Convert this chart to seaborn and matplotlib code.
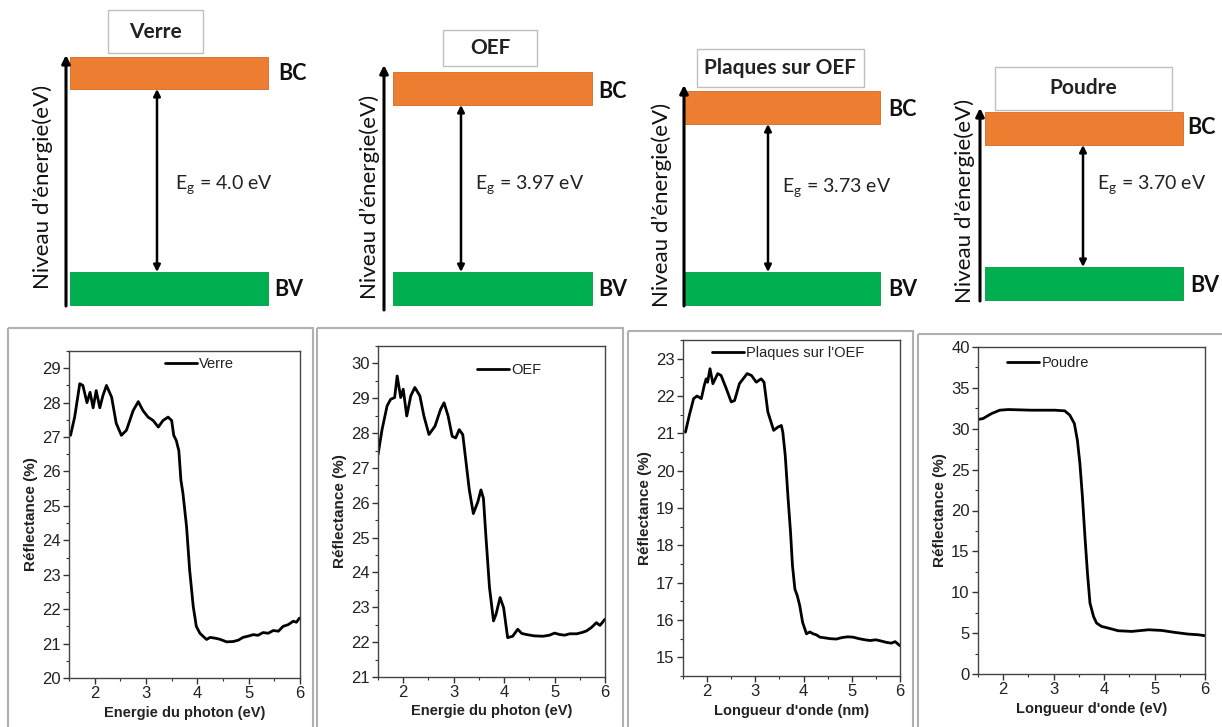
import matplotlib
matplotlib.use("Agg")
import matplotlib.pyplot as plt
from matplotlib.patches import Rectangle
from matplotlib.ticker import AutoMinorLocator, MultipleLocator
import seaborn as sns
import pandas as pd

# ---------------- data ----------------
titles = ["Verre", "OEF", "Plaques sur OEF", "Poudre"]
eg_values = ["4.0", "3.97", "3.73", "3.70"]

verre_x = [1.53, 1.61, 1.71, 1.77, 1.85, 1.91, 1.97, 2.03, 2.10, 2.16, 2.23, 2.33, 2.42, 2.52, 2.62,
           2.75, 2.85, 2.94, 3.04, 3.14, 3.24, 3.33, 3.43, 3.50, 3.54, 3.59, 3.64, 3.68, 3.72, 3.79,
           3.85, 3.92, 3.98, 4.05, 4.12, 4.18, 4.25, 4.37, 4.45, 4.57, 4.70, 4.80, 4.89, 5.00, 5.09,
           5.18, 5.28, 5.38, 5.48, 5.58, 5.67, 5.77, 5.87, 5.93, 5.99]
verre_y = [27.05, 27.58, 28.55, 28.50, 28.00, 28.30, 27.85, 28.35, 27.85, 28.20, 28.50, 28.16, 27.40,
           27.05, 27.20, 27.77, 28.03, 27.77, 27.58, 27.48, 27.29, 27.48, 27.58, 27.48, 27.05, 26.90,
           26.60, 25.75, 25.36, 24.40, 23.14, 22.08, 21.50, 21.30, 21.20, 21.12, 21.18, 21.15, 21.12,
           21.05, 21.06, 21.10, 21.18, 21.22, 21.26, 21.24, 21.32, 21.30, 21.38, 21.36, 21.50, 21.55,
           21.65, 21.62, 21.74]

oef_x = [1.50, 1.58, 1.68, 1.75, 1.83, 1.88, 1.95, 2.00, 2.07, 2.15, 2.23, 2.33, 2.41, 2.51, 2.63,
         2.74, 2.81, 2.89, 2.97, 3.04, 3.11, 3.18, 3.24, 3.31, 3.39, 3.48, 3.54, 3.59, 3.64, 3.71,
         3.79, 3.84, 3.92, 3.99, 4.07, 4.17, 4.27, 4.35, 4.44, 4.60, 4.77, 4.90, 5.00, 5.10, 5.20,
         5.30, 5.44, 5.55, 5.63, 5.73, 5.83, 5.90, 6.00]
oef_y = [27.38, 28.10, 28.78, 28.97, 29.02, 29.64, 29.02, 29.26, 28.49, 29.07, 29.31, 29.07, 28.49,
         27.96, 28.20, 28.68, 28.87, 28.49, 27.91, 27.86, 28.10, 27.96, 27.23, 26.37, 25.69, 26.03,
         26.37, 26.13, 25.02, 23.57, 22.61, 22.80, 23.28, 22.99, 22.13, 22.17, 22.37, 22.25, 22.22,
         22.18, 22.17, 22.20, 22.26, 22.22, 22.20, 22.24, 22.24, 22.28, 22.32, 22.42, 22.56, 22.48,
         22.66]

plaques_x = [1.55, 1.63, 1.72, 1.79, 1.88, 1.94, 1.98, 2.01, 2.06, 2.12, 2.22, 2.29, 2.40, 2.50, 2.57,
             2.67, 2.83, 2.92, 3.02, 3.12, 3.18, 3.26, 3.38, 3.47, 3.54, 3.57, 3.62, 3.68, 3.73, 3.77,
             3.82, 3.87, 3.92, 3.98, 4.06, 4.13, 4.20, 4.27, 4.34, 4.45, 4.55, 4.68, 4.80, 4.92, 5.03,
             5.15, 5.27, 5.38, 5.50, 5.60, 5.72, 5.82, 5.90, 6.00]
plaques_y = [21.03, 21.48, 21.93, 22.00, 21.93, 22.28, 22.46, 22.37, 22.73, 22.33, 22.60, 22.55, 22.19,
             21.84, 21.88, 22.33, 22.60, 22.55, 22.37, 22.46, 22.37, 21.57, 21.08, 21.17, 21.21, 21.03,
             20.41, 19.24, 18.35, 17.46, 16.83, 16.65, 16.39, 15.94, 15.63, 15.68, 15.63, 15.60, 15.54,
             15.52, 15.50, 15.49, 15.53, 15.55, 15.54, 15.50, 15.47, 15.45, 15.47, 15.44, 15.40, 15.38,
             15.42, 15.31]

poudre_x = [1.50, 1.60, 1.77, 1.93, 2.10, 2.56, 3.02, 3.22, 3.32, 3.41, 3.47, 3.52, 3.57, 3.62, 3.67,
            3.72, 3.79, 3.85, 3.95, 4.08, 4.28, 4.55, 4.88, 5.14, 5.40, 5.67, 5.87, 6.00]
poudre_y = [31.13, 31.25, 31.86, 32.27, 32.35, 32.27, 32.27, 32.19, 31.66, 30.64, 28.60, 25.76, 21.69,
            16.80, 12.33, 8.67, 7.04, 6.23, 5.82, 5.62, 5.29, 5.21, 5.41, 5.33, 5.09, 4.88, 4.80, 4.68]

curve_labels = ["Verre", "OEF", "Plaques sur l'OEF", "Poudre"]
x_labels = ["Energie du photon (eV)", "Energie du photon (eV)", "Longueur d'onde (nm)", "Longueur d'onde (eV)"]
y_label = "Réflectance (%)"
y_limits = [(20, 29.5), (21, 30.5), (14.5, 23.5), (0, 40)]
y_major = [1, 1, 1, 5]

# ---------------- style ----------------
sns.set_style("ticks")
plt.rcParams['font.family'] = ['Liberation Sans', 'DejaVu Sans']
TOPFONT = ['Lato', 'DejaVu Sans']
plt.rcParams['mathtext.fontset'] = 'custom'
plt.rcParams['mathtext.rm'] = 'Lato'

W, H = 1222, 727
fig = plt.figure(figsize=(W / 100, H / 100), dpi=100)
fig.patch.set_facecolor('white')

ov = fig.add_axes([0, 0, 1, 1])
ov.set_xlim(0, W)
ov.set_ylim(H, 0)
ov.axis('off')

# ---------- top band diagrams (layout in pixels) ----------
layout = [
    dict(ax_x=66, ax_t=55, ax_b=306, bx0=70, bx1=268, bc=(57, 89), bv=(272, 305), tb=(108, 203, 10, 53),
         dx=157, eg=(175, 185), yl=(43, 187), bcl=(278, 73), bvl=(274, 290)),
    dict(ax_x=384, ax_t=65, ax_b=310, bx0=393, bx1=592, bc=(72, 105), bv=(272, 305), tb=(443, 537, 30, 66),
         dx=461, eg=(475, 185), yl=(370, 197), bcl=(598, 91), bvl=(598, 289)),
    dict(ax_x=684, ax_t=85, ax_b=306, bx0=683, bx1=880, bc=(91, 124), bv=(272, 305), tb=(697, 864, 49, 87),
         dx=768, eg=(782, 188), yl=(662, 205), bcl=(888, 110), bvl=(888, 289)),
    dict(ax_x=980, ax_t=108, ax_b=301, bx0=985, bx1=1183, bc=(112, 145), bv=(267, 300), tb=(995, 1172, 67, 110),
         dx=1083, eg=(1097, 185), yl=(965, 201), bcl=(1187, 128), bvl=(1190, 285)),
]

for i, L in enumerate(layout):
    ov.annotate('', xy=(L['ax_x'], L['ax_t']), xytext=(L['ax_x'], L['ax_b']),
                arrowprops=dict(arrowstyle='-|>', lw=2.2, color='black', mutation_scale=12,
                                shrinkA=0, shrinkB=0))
    ov.add_patch(Rectangle((L['bx0'], L['bc'][0]), L['bx1'] - L['bx0'], L['bc'][1] - L['bc'][0],
                           facecolor='#ED7D31', edgecolor='#D46A20', lw=0.6))
    ov.add_patch(Rectangle((L['bx0'], L['bv'][0]), L['bx1'] - L['bx0'], L['bv'][1] - L['bv'][0],
                           facecolor='#00B050', edgecolor='#009940', lw=0.6))
    x0, x1, y0, y1 = L['tb']
    ov.add_patch(Rectangle((x0, y0), x1 - x0, y1 - y0, facecolor='white', edgecolor='#BFBFBF', lw=1.0))
    ov.text((x0 + x1) / 2, (y0 + y1) / 2, titles[i], ha='center', va='center', fontsize=15,
            fontweight='bold', family=TOPFONT, color='#222222')
    ov.annotate('', xy=(L['dx'], L['bc'][1]), xytext=(L['dx'], L['bv'][0]),
                arrowprops=dict(arrowstyle='<|-|>', lw=1.8, color='black', mutation_scale=10,
                                shrinkA=0, shrinkB=0))
    ov.text(L['eg'][0], L['eg'][1], r'E$_\mathregular{g}$ = ' + eg_values[i] + ' eV', ha='left', va='center',
            fontsize=14, family=TOPFONT, color='#222222')
    ov.text(L['yl'][0], L['yl'][1], "Niveau d\u2019énergie(eV)", rotation=90, ha='center', va='center',
            fontsize=16, family=TOPFONT, color='#111111')
    ov.text(L['bcl'][0], L['bcl'][1], 'BC', ha='left', va='center', fontsize=15.5, fontweight='bold',
            family=TOPFONT, color='#111111')
    ov.text(L['bvl'][0], L['bvl'][1], 'BV', ha='left', va='center', fontsize=15.5, fontweight='bold',
            family=TOPFONT, color='#111111')

# grey frames around the bottom panels
frames = [(8, 313, 328), (317, 623, 328), (628, 913, 331), (918, 1230, 334)]
for (fx0, fx1, fy0) in frames:
    ov.add_patch(Rectangle((fx0, fy0), fx1 - fx0, 800 - fy0, facecolor='none', edgecolor='#B0B0B0', lw=1.5))

# ---------- bottom reflectance plots ----------
rects = [(69, 300, 351, 678), (378, 605, 346, 677), (683, 900, 340, 676), (978, 1205, 347, 674)]
legend_anchor = [(0.415, 0.96), (0.436, 0.927), (0.134, 0.961), (0.128, 0.951)]
curves = [(verre_x, verre_y), (oef_x, oef_y), (plaques_x, plaques_y), (poudre_x, poudre_y)]

for i, (cx, cy) in enumerate(curves):
    x0, x1, y0, y1 = rects[i]
    ax = fig.add_axes([x0 / W, (H - y1) / H, (x1 - x0) / W, (y1 - y0) / H])
    df = pd.DataFrame({'E': cx, 'R': cy, 'serie': curve_labels[i]})
    sns.lineplot(data=df, x='E', y='R', hue='serie', palette=['black'], ax=ax, lw=2.0, estimator=None,
                 sort=False, solid_joinstyle='round', solid_capstyle='round')
    ax.set_xlim(1.5, 6)
    ax.set_ylim(*y_limits[i])
    ax.xaxis.set_major_locator(MultipleLocator(1))
    ax.xaxis.set_minor_locator(AutoMinorLocator(2))
    ax.yaxis.set_major_locator(MultipleLocator(y_major[i]))
    ax.yaxis.set_minor_locator(AutoMinorLocator(2))
    ax.tick_params(which='major', direction='out', length=4, width=1, colors='#333333', labelsize=12,
                   labelcolor='#222222', pad=2)
    ax.tick_params(which='minor', direction='out', length=2, width=0.8, colors='#333333')
    for s in ax.spines.values():
        s.set_color('#444444')
        s.set_linewidth(1.0)
    ax.set_xlabel(x_labels[i], fontsize=10.5, fontweight='bold', color='#222222', labelpad=3)
    ax.set_ylabel(y_label, fontsize=11, fontweight='bold', color='#222222', labelpad=3)
    ax.legend(loc='center left', bbox_to_anchor=legend_anchor[i], frameon=False, fontsize=10.5,
              handlelength=2.2, handletextpad=0.15, borderpad=0, borderaxespad=0,
              labelcolor='#222222')

fig.savefig('out.png', dpi=100)
